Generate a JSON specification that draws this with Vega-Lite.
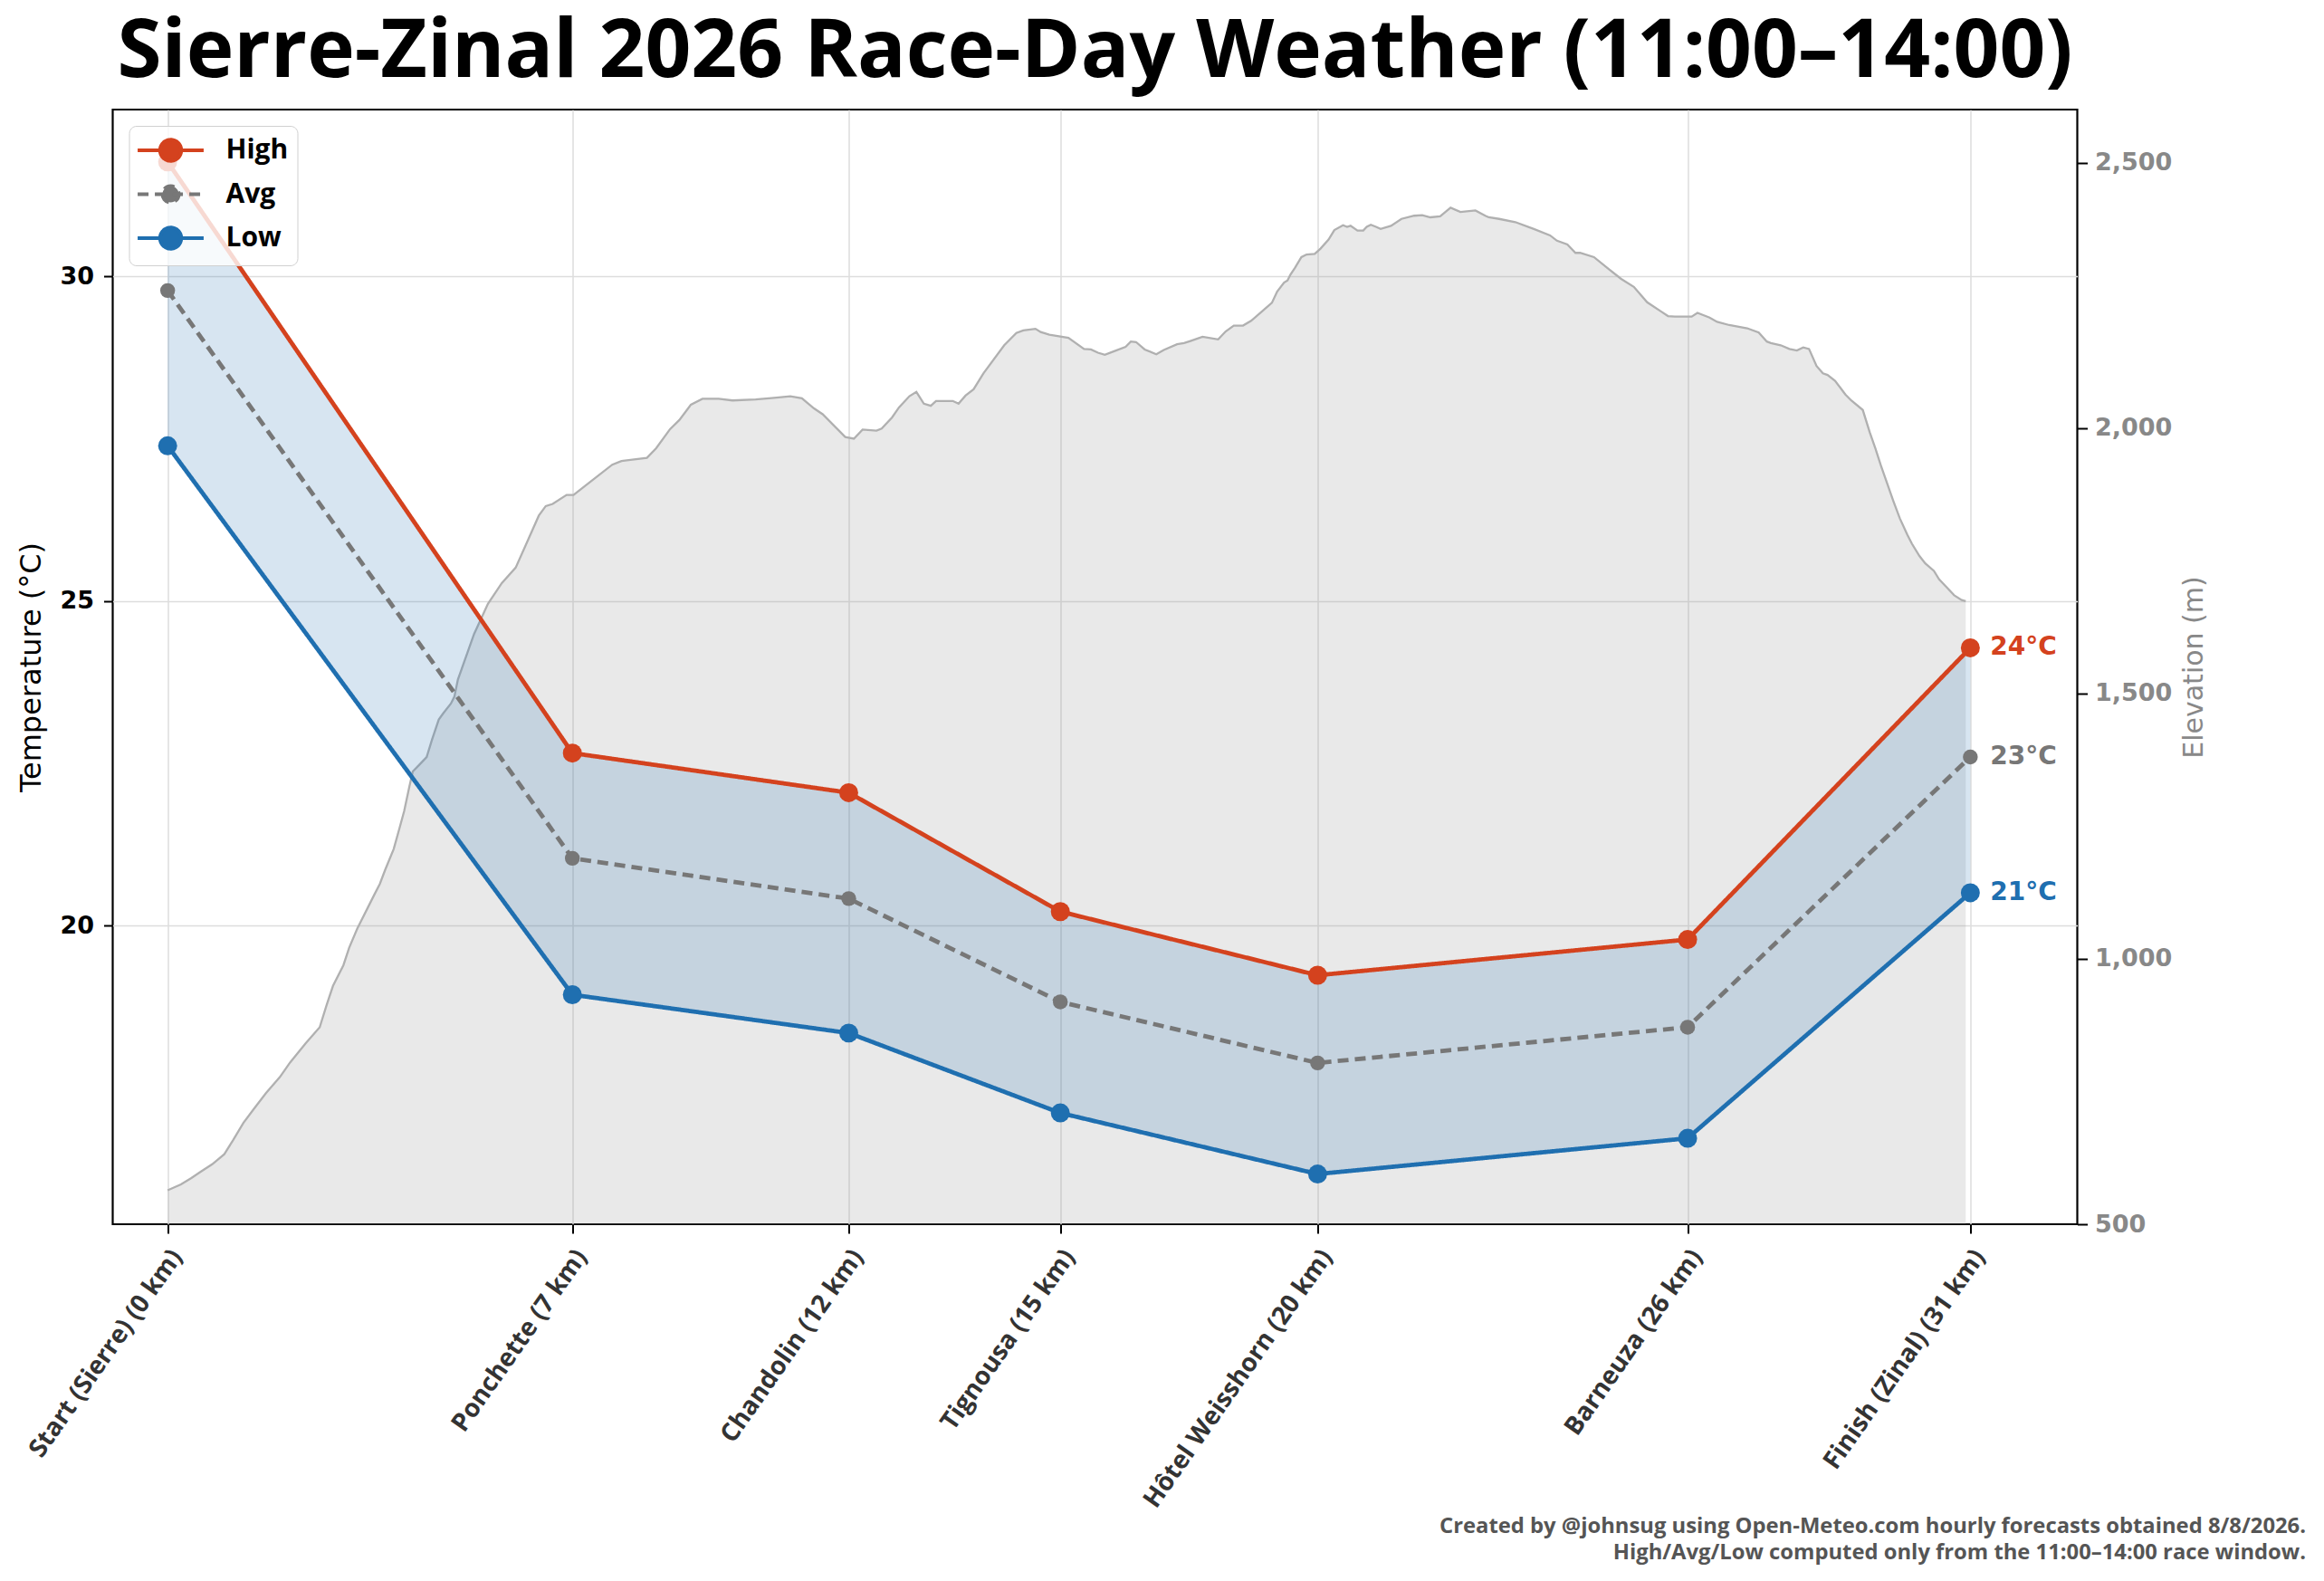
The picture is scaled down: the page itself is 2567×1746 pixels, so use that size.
{
  "$schema": "https://vega.github.io/schema/vega-lite/v6.json",
  "width": 2170,
  "height": 1231,
  "autosize": {"type": "none"},
  "padding": {"left": 124.5, "top": 121, "right": 272.5, "bottom": 394},
  "background": "white",
  "title": {
    "text": "Sierre-Zinal 2026 Race-Day Weather (11:00–14:00)",
    "font": "Open Sans", "fontSize": 89, "fontWeight": "bold", "color": "#000000",
    "anchor": "middle", "frame": "group", "offset": 17
  },
  "datasets": {
    "checkpoints": [
      {"km": 0, "name": "Start (Sierre)", "High": 31.76, "Avg": 29.78, "Low": 27.39},
      {"km": 7.0, "name": "Ponchette", "High": 22.66, "Avg": 21.04, "Low": 18.94},
      {"km": 11.78, "name": "Chandolin", "High": 22.05, "Avg": 20.42, "Low": 18.35},
      {"km": 15.44, "name": "Tignousa", "High": 20.22, "Avg": 18.83, "Low": 17.12},
      {"km": 19.89, "name": "Hôtel Weisshorn", "High": 19.24, "Avg": 17.89, "Low": 16.18},
      {"km": 26.29, "name": "Barneuza", "High": 19.79, "Avg": 18.44, "Low": 16.73},
      {"km": 31.18, "name": "Finish (Zinal)", "High": 24.28, "Avg": 22.60, "Low": 20.51}
    ],
    "elev": [
      {"km": 0.0, "elev": 564}, {"km": 0.23, "elev": 575}, {"km": 0.41, "elev": 587}, {"km": 0.56, "elev": 598},
      {"km": 0.77, "elev": 613}, {"km": 0.98, "elev": 632}, {"km": 1.13, "elev": 658}, {"km": 1.31, "elev": 691},
      {"km": 1.49, "elev": 717}, {"km": 1.70, "elev": 747}, {"km": 1.94, "elev": 777}, {"km": 2.12, "elev": 805},
      {"km": 2.39, "elev": 841}, {"km": 2.63, "elev": 871}, {"km": 2.75, "elev": 913}, {"km": 2.86, "elev": 949},
      {"km": 3.04, "elev": 988}, {"km": 3.14, "elev": 1021}, {"km": 3.28, "elev": 1057}, {"km": 3.46, "elev": 1096},
      {"km": 3.58, "elev": 1122}, {"km": 3.67, "elev": 1141}, {"km": 3.76, "elev": 1167}, {"km": 3.91, "elev": 1207},
      {"km": 4.00, "elev": 1242}, {"km": 4.09, "elev": 1278}, {"km": 4.18, "elev": 1324}, {"km": 4.24, "elev": 1353},
      {"km": 4.33, "elev": 1363}, {"km": 4.48, "elev": 1380}, {"km": 4.57, "elev": 1412}, {"km": 4.69, "elev": 1451},
      {"km": 4.77, "elev": 1463}, {"km": 4.90, "elev": 1481}, {"km": 4.96, "elev": 1494}, {"km": 5.02, "elev": 1526},
      {"km": 5.30, "elev": 1612}, {"km": 5.54, "elev": 1669}, {"km": 5.78, "elev": 1708}, {"km": 6.02, "elev": 1737},
      {"km": 6.22, "elev": 1786}, {"km": 6.42, "elev": 1835}, {"km": 6.54, "elev": 1853}, {"km": 6.66, "elev": 1857},
      {"km": 6.90, "elev": 1874}, {"km": 7.02, "elev": 1874}, {"km": 7.29, "elev": 1897}, {"km": 7.69, "elev": 1931},
      {"km": 7.85, "elev": 1938}, {"km": 8.29, "elev": 1944}, {"km": 8.45, "elev": 1962}, {"km": 8.69, "elev": 1998},
      {"km": 8.85, "elev": 2015}, {"km": 9.05, "elev": 2044}, {"km": 9.25, "elev": 2055}, {"km": 9.53, "elev": 2055},
      {"km": 9.77, "elev": 2052}, {"km": 10.17, "elev": 2054}, {"km": 10.49, "elev": 2057}, {"km": 10.77, "elev": 2060},
      {"km": 10.97, "elev": 2056}, {"km": 11.18, "elev": 2037}, {"km": 11.33, "elev": 2026}, {"km": 11.72, "elev": 1983},
      {"km": 11.87, "elev": 1980}, {"km": 12.02, "elev": 1997}, {"km": 12.26, "elev": 1995}, {"km": 12.35, "elev": 1999},
      {"km": 12.53, "elev": 2020}, {"km": 12.65, "elev": 2039}, {"km": 12.83, "elev": 2060}, {"km": 12.95, "elev": 2068},
      {"km": 13.08, "elev": 2046}, {"km": 13.20, "elev": 2042}, {"km": 13.29, "elev": 2051}, {"km": 13.58, "elev": 2051},
      {"km": 13.68, "elev": 2046}, {"km": 13.80, "elev": 2061}, {"km": 13.94, "elev": 2073}, {"km": 14.11, "elev": 2103},
      {"km": 14.47, "elev": 2156}, {"km": 14.68, "elev": 2179}, {"km": 14.80, "elev": 2184}, {"km": 15.01, "elev": 2187},
      {"km": 15.10, "elev": 2181}, {"km": 15.25, "elev": 2176}, {"km": 15.58, "elev": 2170}, {"km": 15.85, "elev": 2149},
      {"km": 15.97, "elev": 2148}, {"km": 16.09, "elev": 2142}, {"km": 16.21, "elev": 2138}, {"km": 16.33, "elev": 2143},
      {"km": 16.57, "elev": 2153}, {"km": 16.66, "elev": 2163}, {"km": 16.75, "elev": 2162}, {"km": 16.90, "elev": 2148},
      {"km": 17.10, "elev": 2139}, {"km": 17.23, "elev": 2147}, {"km": 17.46, "elev": 2158}, {"km": 17.58, "elev": 2160},
      {"km": 17.69, "elev": 2164}, {"km": 17.90, "elev": 2172}, {"km": 18.17, "elev": 2167}, {"km": 18.30, "elev": 2182},
      {"km": 18.44, "elev": 2193}, {"km": 18.60, "elev": 2193}, {"km": 18.74, "elev": 2202}, {"km": 18.92, "elev": 2219},
      {"km": 19.10, "elev": 2236}, {"km": 19.19, "elev": 2257}, {"km": 19.31, "elev": 2274}, {"km": 19.37, "elev": 2278},
      {"km": 19.42, "elev": 2289}, {"km": 19.50, "elev": 2302}, {"km": 19.61, "elev": 2322}, {"km": 19.70, "elev": 2327},
      {"km": 19.84, "elev": 2328}, {"km": 19.94, "elev": 2338}, {"km": 20.08, "elev": 2355}, {"km": 20.18, "elev": 2373},
      {"km": 20.33, "elev": 2382}, {"km": 20.40, "elev": 2379}, {"km": 20.46, "elev": 2381}, {"km": 20.58, "elev": 2372},
      {"km": 20.68, "elev": 2372}, {"km": 20.74, "elev": 2379}, {"km": 20.81, "elev": 2383}, {"km": 20.90, "elev": 2379},
      {"km": 20.98, "elev": 2375}, {"km": 21.16, "elev": 2381}, {"km": 21.34, "elev": 2394}, {"km": 21.56, "elev": 2400},
      {"km": 21.70, "elev": 2401}, {"km": 21.84, "elev": 2397}, {"km": 22.01, "elev": 2399}, {"km": 22.19, "elev": 2415},
      {"km": 22.36, "elev": 2407}, {"km": 22.62, "elev": 2410}, {"km": 22.79, "elev": 2400}, {"km": 22.85, "elev": 2397},
      {"km": 23.03, "elev": 2394}, {"km": 23.31, "elev": 2388}, {"km": 23.63, "elev": 2375}, {"km": 23.91, "elev": 2363},
      {"km": 24.03, "elev": 2353}, {"km": 24.21, "elev": 2346}, {"km": 24.35, "elev": 2330}, {"km": 24.43, "elev": 2330},
      {"km": 24.67, "elev": 2322}, {"km": 24.93, "elev": 2299}, {"km": 25.14, "elev": 2281}, {"km": 25.36, "elev": 2266},
      {"km": 25.59, "elev": 2237}, {"km": 25.84, "elev": 2219}, {"km": 25.95, "elev": 2211}, {"km": 26.07, "elev": 2210},
      {"km": 26.36, "elev": 2210}, {"km": 26.46, "elev": 2217}, {"km": 26.67, "elev": 2208}, {"km": 26.80, "elev": 2200},
      {"km": 27.01, "elev": 2194}, {"km": 27.32, "elev": 2188}, {"km": 27.52, "elev": 2180}, {"km": 27.66, "elev": 2163},
      {"km": 27.73, "elev": 2160}, {"km": 27.90, "elev": 2156}, {"km": 28.05, "elev": 2149}, {"km": 28.18, "elev": 2146},
      {"km": 28.29, "elev": 2152}, {"km": 28.39, "elev": 2149}, {"km": 28.52, "elev": 2117}, {"km": 28.63, "elev": 2103},
      {"km": 28.71, "elev": 2100}, {"km": 28.84, "elev": 2089}, {"km": 29.02, "elev": 2063}, {"km": 29.12, "elev": 2052},
      {"km": 29.32, "elev": 2034}, {"km": 29.44, "elev": 1992}, {"km": 29.54, "elev": 1961}, {"km": 29.64, "elev": 1927},
      {"km": 29.85, "elev": 1862}, {"km": 29.96, "elev": 1830}, {"km": 30.09, "elev": 1799}, {"km": 30.17, "elev": 1782},
      {"km": 30.30, "elev": 1759}, {"km": 30.40, "elev": 1745}, {"km": 30.55, "elev": 1731}, {"km": 30.64, "elev": 1715},
      {"km": 30.77, "elev": 1700}, {"km": 30.90, "elev": 1685}, {"km": 31.03, "elev": 1676}, {"km": 31.10, "elev": 1674}
    ]
  },
  "encoding": {
    "x": {
      "field": "km", "type": "quantitative",
      "scale": {"domain": [-0.95, 33.03], "nice": false, "zero": false},
      "axis": {
        "values": [0, 7, 11.78, 15.44, 19.89, 26.29, 31.18],
        "labelExpr": "datum.value < 1 ? 'Start (Sierre) (0 km)' : datum.value < 9 ? 'Ponchette (7 km)' : datum.value < 13 ? 'Chandolin (12 km)' : datum.value < 17 ? 'Tignousa (15 km)' : datum.value < 22 ? 'Hôtel Weisshorn (20 km)' : datum.value < 28 ? 'Barneuza (26 km)' : 'Finish (Zinal) (31 km)'",
        "labelAngle": -55, "labelAlign": "right", "labelBaseline": "middle",
        "labelPadding": 21, "labelOffset": 10, "labelOverlap": false, "labelFlush": false, "labelBound": false, "labelLimit": 0,
        "labelFont": "Open Sans", "labelFontWeight": "bold", "labelFontSize": 28, "labelColor": "#333333",
        "ticks": true, "tickColor": "#000000", "tickWidth": 2, "tickSize": 10,
        "grid": true, "gridColor": "#dddddd", "gridWidth": 1.5,
        "title": ["Created by @johnsug using Open-Meteo.com hourly forecasts obtained 8/8/2026.", "High/Avg/Low computed only from the 11:00–14:00 race window."],
        "titleFont": "Open Sans", "titleFontWeight": "bold", "titleFontSize": 23.8, "titleColor": "#555555",
        "titleAlign": "right", "titleAnchor": "end", "titleBaseline": "alphabetic",
        "titleX": 2422, "titleY": 340, "titleLineHeight": 29
      }
    }
  },
  "layer": [
    {
      "data": {"name": "elev"},
      "mark": {"type": "area", "color": "#999999", "fillOpacity": 0.22, "line": {"color": "#b0b0b0", "strokeWidth": 2.3}},
      "encoding": {
        "y": {
          "field": "elev", "type": "quantitative",
          "scale": {"domain": [500, 2600], "nice": false, "zero": false},
          "axis": {
            "orient": "right", "values": [500, 1000, 1500, 2000, 2500], "format": ",d", "grid": false,
            "tickColor": "#000000", "tickWidth": 2, "tickSize": 11,
            "labelFont": "DejaVu Sans", "labelFontWeight": "bold", "labelFontSize": 27, "labelColor": "#888888", "labelPadding": 8,
            "title": "Elevation (m)", "titleFont": "DejaVu Sans", "titleFontWeight": "normal", "titleFontSize": 30,
            "titleColor": "#888888", "titleAngle": 270, "titleBaseline": "top", "titlePadding": 10
          }
        },
        "y2": {"datum": 500}
      }
    },
    {
      "data": {"name": "checkpoints"},
      "layer": [
        {
          "mark": {"type": "area", "color": "#1f6fb0", "opacity": 0.18},
          "encoding": {
            "y": {
              "field": "Low", "type": "quantitative",
              "scale": {"domain": [15.407, 32.566], "nice": false, "zero": false},
              "axis": {
                "orient": "left", "values": [20, 25, 30], "grid": true, "gridColor": "#dddddd", "gridWidth": 1.5,
                "tickColor": "#000000", "tickWidth": 2, "tickSize": 10,
                "labelFont": "DejaVu Sans", "labelFontWeight": "bold", "labelFontSize": 27, "labelColor": "#000000", "labelPadding": 11,
                "title": "Temperature (°C)", "titleFont": "DejaVu Sans", "titleFontWeight": "normal", "titleFontSize": 32,
                "titleColor": "#000000", "titlePadding": 14
              }
            },
            "y2": {"field": "High"}
          }
        },
        {
          "transform": [{"fold": ["High", "Avg", "Low"], "as": ["series", "temp"]}],
          "mark": {"type": "line", "strokeWidth": 4.8},
          "encoding": {
            "y": {
              "field": "temp", "type": "quantitative",
              "scale": {"domain": [15.407, 32.566], "nice": false, "zero": false},
              "axis": {
                "orient": "left", "values": [20, 25, 30], "grid": true, "gridColor": "#dddddd", "gridWidth": 1.5,
                "tickColor": "#000000", "tickWidth": 2, "tickSize": 10,
                "labelFont": "DejaVu Sans", "labelFontWeight": "bold", "labelFontSize": 27, "labelColor": "#000000", "labelPadding": 11,
                "title": "Temperature (°C)", "titleFont": "DejaVu Sans", "titleFontWeight": "normal", "titleFontSize": 32,
                "titleColor": "#000000", "titlePadding": 14
              }
            },
            "color": {
              "field": "series", "type": "nominal",
              "scale": {"domain": ["High", "Avg", "Low"], "range": ["#d4421e", "#777777", "#1f6fb0"]},
              "legend": {
                "title": null, "orient": "top-left", "offset": 18,
                "symbolType": "M-2.43,0L2.43,0M-0.78,0A0.78,0.78,0,1,0,0.78,0A0.78,0.78,0,1,0,-0.78,0Z",
                "symbolSize": 900, "symbolStrokeWidth": 4, "symbolOffset": 19,
                "labelFont": "Open Sans", "labelFontWeight": "bold", "labelFontSize": 30, "labelColor": "#000000",
                "labelOffset": 44, "rowPadding": 11.5, "padding": 10, "cornerRadius": 8,
                "strokeColor": "#d0d0d0", "fillColor": "rgba(255,255,255,0.8)",
                "encode": {
                  "symbols": {
                    "update": {
                      "shape": {"signal": "datum.value === 'Avg' ? 'M-2.43,0L2.43,0M-0.6,0A0.6,0.6,0,1,0,0.6,0A0.6,0.6,0,1,0,-0.6,0Z' : 'M-2.43,0L2.43,0M-0.78,0A0.78,0.78,0,1,0,0.78,0A0.78,0.78,0,1,0,-0.78,0Z'"},
                      "size": {"value": 900},
                      "fill": {"scale": "color", "field": "value"},
                      "stroke": {"scale": "color", "field": "value"},
                      "opacity": {"value": 1},
                      "fillOpacity": {"value": 1},
                      "strokeOpacity": {"value": 1}
                    }
                  }
                }
              }
            },
            "strokeDash": {
              "field": "series", "type": "nominal",
              "scale": {"domain": ["High", "Avg", "Low"], "range": [[1, 0], [12, 7], [1, 0]]}
            }
          }
        },
        {
          "transform": [{"fold": ["High", "Avg", "Low"], "as": ["series", "temp"]}, {"filter": "datum.series !== 'Avg'"}],
          "mark": {"type": "circle", "opacity": 1, "size": 440},
          "encoding": {
            "y": {
              "field": "temp", "type": "quantitative",
              "scale": {"domain": [15.407, 32.566], "nice": false, "zero": false},
              "axis": {
                "orient": "left", "values": [20, 25, 30], "grid": true, "gridColor": "#dddddd", "gridWidth": 1.5,
                "tickColor": "#000000", "tickWidth": 2, "tickSize": 10,
                "labelFont": "DejaVu Sans", "labelFontWeight": "bold", "labelFontSize": 27, "labelColor": "#000000", "labelPadding": 11,
                "title": "Temperature (°C)", "titleFont": "DejaVu Sans", "titleFontWeight": "normal", "titleFontSize": 32,
                "titleColor": "#000000", "titlePadding": 14
              }
            },
            "color": {"field": "series", "type": "nominal", "scale": {"domain": ["High", "Avg", "Low"], "range": ["#d4421e", "#777777", "#1f6fb0"]}, "legend": null}
          }
        },
        {
          "transform": [{"fold": ["High", "Avg", "Low"], "as": ["series", "temp"]}, {"filter": "datum.series === 'Avg'"}],
          "mark": {"type": "circle", "opacity": 1, "size": 270},
          "encoding": {
            "y": {
              "field": "temp", "type": "quantitative",
              "scale": {"domain": [15.407, 32.566], "nice": false, "zero": false},
              "axis": {
                "orient": "left", "values": [20, 25, 30], "grid": true, "gridColor": "#dddddd", "gridWidth": 1.5,
                "tickColor": "#000000", "tickWidth": 2, "tickSize": 10,
                "labelFont": "DejaVu Sans", "labelFontWeight": "bold", "labelFontSize": 27, "labelColor": "#000000", "labelPadding": 11,
                "title": "Temperature (°C)", "titleFont": "DejaVu Sans", "titleFontWeight": "normal", "titleFontSize": 32,
                "titleColor": "#000000", "titlePadding": 14
              }
            },
            "color": {"field": "series", "type": "nominal", "scale": {"domain": ["High", "Avg", "Low"], "range": ["#d4421e", "#777777", "#1f6fb0"]}, "legend": null}
          }
        },
        {
          "transform": [
            {"fold": ["High", "Avg", "Low"], "as": ["series", "temp"]},
            {"filter": "datum.km > 31"},
            {"calculate": "format(datum.temp, '.0f') + '°C'", "as": "label"}
          ],
          "mark": {"type": "text", "align": "left", "baseline": "middle", "dx": 22, "font": "DejaVu Sans", "fontWeight": "bold", "fontSize": 28},
          "encoding": {
            "y": {
              "field": "temp", "type": "quantitative",
              "scale": {"domain": [15.407, 32.566], "nice": false, "zero": false},
              "axis": {
                "orient": "left", "values": [20, 25, 30], "grid": true, "gridColor": "#dddddd", "gridWidth": 1.5,
                "tickColor": "#000000", "tickWidth": 2, "tickSize": 10,
                "labelFont": "DejaVu Sans", "labelFontWeight": "bold", "labelFontSize": 27, "labelColor": "#000000", "labelPadding": 11,
                "title": "Temperature (°C)", "titleFont": "DejaVu Sans", "titleFontWeight": "normal", "titleFontSize": 32,
                "titleColor": "#000000", "titlePadding": 14
              }
            },
            "text": {"field": "label"},
            "color": {"field": "series", "type": "nominal", "scale": {"domain": ["High", "Avg", "Low"], "range": ["#d4421e", "#777777", "#1f6fb0"]}, "legend": null}
          }
        }
      ]
    }
  ],
  "resolve": {"scale": {"y": "independent"}},
  "config": {
    "view": {"stroke": "#000000", "strokeWidth": 2.2},
    "axis": {"domain": false}
  }
}
